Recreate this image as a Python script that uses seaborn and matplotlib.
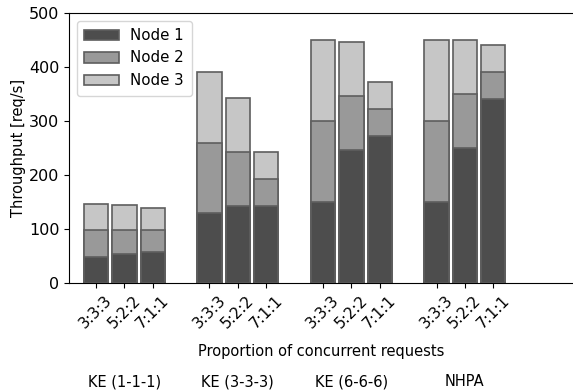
import numpy as np
import pandas as pd
import matplotlib
matplotlib.use("Agg")
import matplotlib.pyplot as plt
import seaborn as sns

# data
groups = ["KE (1-1-1)", "KE (3-3-3)", "KE (6-6-6)", "NHPA"]
ratios = ["3:3:3", "5:2:2", "7:1:1"]
node1 = [49, 54, 57, 130, 142, 142, 150, 246, 272, 150, 250, 340]
node2 = [49, 45, 41, 130, 100, 50, 150, 100, 50, 150, 100, 50]
node3 = [49, 45, 40, 130, 100, 50, 150, 100, 50, 150, 100, 50]

sns.set_style("ticks")
plt.rcParams['font.family'] = ['DejaVu Sans']
plt.rcParams.update({"text.color": "black", "axes.labelcolor": "black",
                     "xtick.color": "black", "ytick.color": "black",
                     "axes.edgecolor": "black"})

# positions: 3 bars per group, one empty slot between groups
pos = [g * 4 + i for g in range(len(groups)) for i in range(len(ratios))]
df = pd.DataFrame({"pos": pos, "Node 1": node1, "Node 2": node2, "Node 3": node3})
df["c2"] = df["Node 1"] + df["Node 2"]
df["c3"] = df["c2"] + df["Node 3"]

fig = plt.figure(figsize=(5.73, 3.92), dpi=100)
ax = fig.add_axes([69 / 573, 109 / 392, 1 - 69 / 573 + 0.002, 270 / 392])

colors = ["#4d4d4d", "#999999", "#c6c6c6"]
edge = dict(edgecolor="#5e5e5e", linewidth=1.2)
# stacked bars drawn as cumulative totals, tallest first
sns.barplot(data=df, x="pos", y="c3", native_scale=True, width=0.86,
            color=colors[2], saturation=1, label="Node 3", ax=ax, **edge)
sns.barplot(data=df, x="pos", y="c2", native_scale=True, width=0.86,
            color=colors[1], saturation=1, label="Node 2", ax=ax, **edge)
sns.barplot(data=df, x="pos", y="Node 1", native_scale=True, width=0.86,
            color=colors[0], saturation=1, label="Node 1", ax=ax, **edge)

ax.set_xlim(-0.95, 16.85)
ax.set_ylim(0, 500)
ax.set_yticks([0, 100, 200, 300, 400, 500])
ax.set_xticks(pos)
ax.set_xticklabels(ratios * len(groups), rotation=45, fontsize=11)
ax.tick_params(axis="y", labelsize=11.5)
ax.set_ylabel("Throughput [req/s]", fontsize=10.5, labelpad=2)
ax.set_xlabel("Proportion of concurrent requests", fontsize=10.5, labelpad=9)

handles, labels = ax.get_legend_handles_labels()
ax.legend(handles[::-1], labels[::-1], loc="upper left", fontsize=10.8,
          handlelength=2.3, borderpad=0.5, labelspacing=0.5)

for g, name in enumerate(groups):
    ax.text(g * 4 + 1, -0.365, name, transform=ax.get_xaxis_transform(),
            ha="center", va="center", fontsize=10.5)

fig.savefig("out.png", dpi=100)
